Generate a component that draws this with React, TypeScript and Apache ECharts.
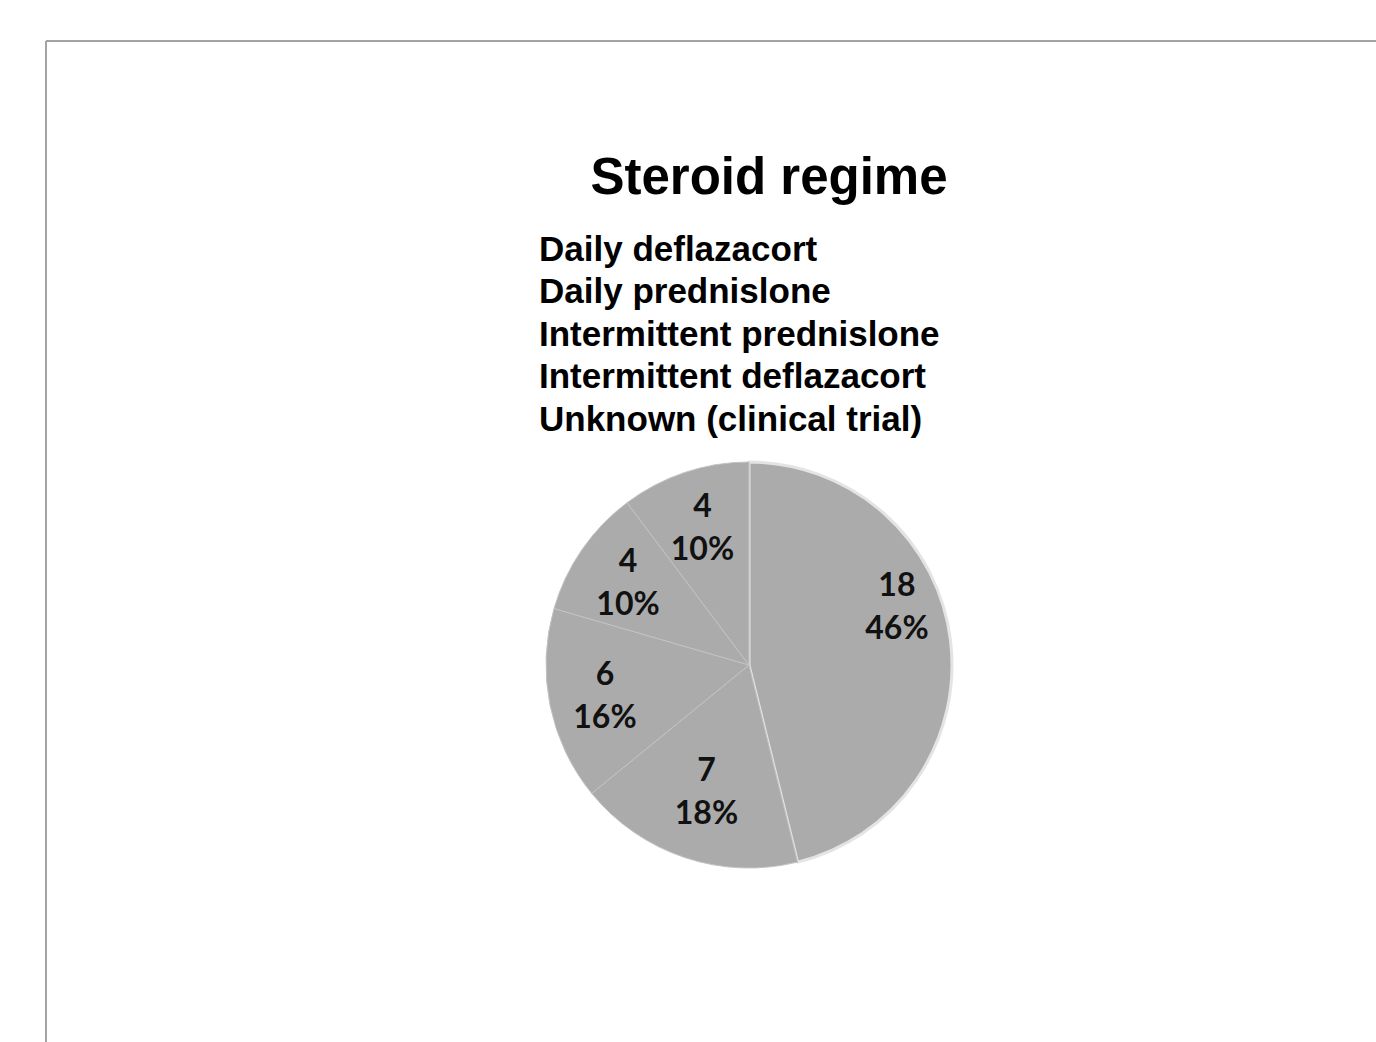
import React, { useEffect, useRef } from "react";
import * as echarts from "echarts";

const categories = [
  "Daily deflazacort",
  "Daily prednislone",
  "Intermittent prednislone",
  "Intermittent deflazacort",
  "Unknown (clinical trial)",
];
const counts = [18, 7, 6, 4, 4];
const percentLabels = ["46%", "18%", "16%", "10%", "10%"];
const titleText = "Steroid regime";

export default function App() {
  const ref = useRef<HTMLDivElement>(null);
  useEffect(() => {
    if (!ref.current) return;
    const chart = echarts.init(ref.current, undefined, { renderer: "svg" });
    const sliceColor = "#ababab";
    const visibleData = categories.map((name, i) => ({
      name,
      value: counts[i],
      itemStyle:
        i === 0
          ? { color: sliceColor, borderColor: "#e4e4e4", borderWidth: 3 }
          : { color: sliceColor, borderColor: "#c2c2c2", borderWidth: 1 },
    }));
    const labelData = categories.map((name, i) => ({ name, value: counts[i] }));
    chart.setOption({
      animation: false,
      backgroundColor: "#ffffff",
      title: {
        text: titleText,
        left: 764,
        top: 146,
        textAlign: "center",
        textStyle: {
          fontFamily: "Liberation Sans, Arial, sans-serif",
          fontWeight: "bold",
          fontSize: 51,
          color: "#000",
        },
      },
      legend: {
        orient: "vertical",
        left: 528,
        top: 222,
        itemWidth: 0,
        itemHeight: 0,
        itemGap: 0,
        icon: "rect",
        selectedMode: false,
        data: categories,
        textStyle: {
          fontFamily: "Liberation Sans, Arial, sans-serif",
          fontWeight: "bold",
          fontSize: 35,
          lineHeight: 42.5,
          color: "#000",
        },
      },
      graphic: [
        {
          type: "line",
          shape: { x1: 46, y1: 41, x2: 1376, y2: 41 },
          style: { stroke: "#a3a3a3", lineWidth: 2 },
        },
        {
          type: "line",
          shape: { x1: 46, y1: 41, x2: 46, y2: 1042 },
          style: { stroke: "#a3a3a3", lineWidth: 2 },
        },
      ],
      series: [
        {
          type: "pie",
          center: [749, 665],
          radius: [0, 203],
          startAngle: 90,
          clockwise: true,
          silent: true,
          label: { show: false },
          labelLine: { show: false },
          data: visibleData,
        },
        {
          type: "pie",
          center: [749, 665],
          radius: [0, 288],
          startAngle: 90,
          clockwise: true,
          silent: true,
          itemStyle: { color: "rgba(0,0,0,0)", borderWidth: 0 },
          labelLine: { show: false },
          label: {
            show: true,
            position: "inside",
            fontFamily: "Lato, Liberation Sans, sans-serif",
            fontWeight: "bold",
            fontSize: 32,
            lineHeight: 43,
            color: "#111",
            formatter: (p: any) =>
              `${counts[p.dataIndex]}\n${percentLabels[p.dataIndex]}`,
          },
          labelLayout: (p: any) =>
            p.dataIndex === 0
              ? { dx: 2, dy: -42 }
              : p.dataIndex === 1
              ? { dx: 4, dy: -14 }
              : {},
          data: labelData,
        },
      ],
    });
    return () => chart.dispose();
  }, []);
  return (
    <div
      ref={ref}
      style={{ position: "fixed", left: 0, top: 0, width: 1376, height: 1042 }}
    />
  );
}
